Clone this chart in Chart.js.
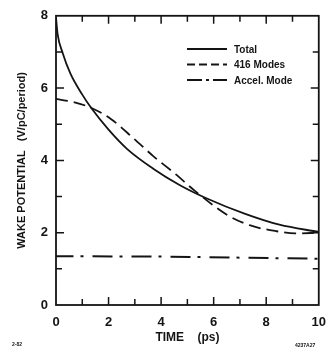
<!DOCTYPE html>
<html lang="en">
<head>
<meta charset="UTF-8">
<title>Wake potential</title>
<script src="https://cdn.jsdelivr.net/npm/chart.js"></script>
<style>
  html, body { margin: 0; padding: 0; background: #fff; }
  canvas { display: block; }
</style>
</head>
<body>
<canvas id="wake" width="336" height="355"></canvas>
<script>
// time (ps) / wake potential (V/pC/period)
const totalTime = [0, 0.06, 0.25, 0.55, 1.0, 1.35, 2.0, 2.7, 3.7, 4.7, 5.7, 7.2, 8.5, 10.0];
const totalWake = [7.95, 7.5, 6.98, 6.4, 5.82, 5.44, 4.85, 4.32, 3.77, 3.32, 2.96, 2.52, 2.22, 2.02];

const modesTime = [0, 0.74, 1.35, 2.1, 2.95, 3.7, 4.55, 5.3, 6.54, 7.4, 8.4, 9.1, 10.0];
const modesWake = [5.7, 5.6, 5.45, 5.14, 4.61, 4.12, 3.62, 3.15, 2.48, 2.2, 2.04, 1.98, 2.0];

const accelTime = [0, 4, 10];
const accelWake = [1.35, 1.34, 1.28];

const seriesNames = ['Total', '416 Modes', 'Accel. Mode'];
const xTickLabels = [0, 2, 4, 6, 8, 10];
const yTickLabels = [0, 2, 4, 6, 8];

const ink = '#141414';
const FONT = "'Liberation Sans', Arial, sans-serif";

const toPoints = (xs, ys) => xs.map((x, i) => ({ x: x, y: ys[i] }));

// box around the plot with inward ticks on all four sides
const frameTicks = {
  id: 'frameTicks',
  afterDraw(chart) {
    const { ctx, chartArea: a, scales: { x, y } } = chart;
    ctx.save();
    ctx.strokeStyle = ink;
    ctx.lineWidth = 1.8;
    ctx.strokeRect(a.left, a.top, a.right - a.left, a.bottom - a.top);
    ctx.lineWidth = 1.5;
    ctx.beginPath();
    for (let v = 1; v < 10; v++) {
      const px = x.getPixelForValue(v);
      const len = v % 2 === 0 ? 8 : 6;
      ctx.moveTo(px, a.bottom); ctx.lineTo(px, a.bottom - len);
      ctx.moveTo(px, a.top); ctx.lineTo(px, a.top + len);
    }
    for (let v = 1; v < 8; v++) {
      const py = y.getPixelForValue(v);
      const len = v % 2 === 0 ? 8 : 6;
      ctx.moveTo(a.left, py); ctx.lineTo(a.left + len, py);
      ctx.moveTo(a.right, py); ctx.lineTo(a.right - len, py);
    }
    ctx.stroke();
    ctx.restore();
  }
};

// legend in the upper right of the plot, plus the small figure codes
const innerLegend = {
  id: 'innerLegend',
  afterDraw(chart) {
    const { ctx } = chart;
    ctx.save();
    chart.data.datasets.forEach((ds, i) => {
      const yy = 49 + i * 15.5;
      ctx.strokeStyle = ds.borderColor;
      ctx.lineWidth = ds.borderWidth;
      ctx.setLineDash(i === 1 ? [8, 4] : i === 2 ? [15, 4, 3, 4] : []);
      ctx.beginPath();
      ctx.moveTo(187, yy);
      ctx.lineTo(227, yy);
      ctx.stroke();
      ctx.setLineDash([]);
      ctx.fillStyle = ink;
      ctx.font = 'bold 10px ' + FONT;
      ctx.textBaseline = 'middle';
      ctx.fillText(ds.label, 234, yy + 1);
    });
    ctx.font = 'bold 5px ' + FONT;
    ctx.fillText('2-82', 12, 345);
    ctx.fillText('4237A27', 295, 346);
    ctx.restore();
  }
};

new Chart(document.getElementById('wake'), {
  type: 'line',
  data: {
    datasets: [
      {
        label: seriesNames[0],
        data: toPoints(totalTime, totalWake),
        borderColor: ink,
        borderWidth: 1.8,
        pointRadius: 0,
        cubicInterpolationMode: 'monotone'
      },
      {
        label: seriesNames[1],
        data: toPoints(modesTime, modesWake),
        borderColor: ink,
        borderWidth: 1.8,
        borderDash: [12, 6],
        pointRadius: 0,
        cubicInterpolationMode: 'monotone'
      },
      {
        label: seriesNames[2],
        data: toPoints(accelTime, accelWake),
        borderColor: ink,
        borderWidth: 2,
        borderDash: [20, 7, 3, 9],
        borderDashOffset: 2.5,
        pointRadius: 0
      }
    ]
  },
  options: {
    responsive: false,
    animation: false,
    devicePixelRatio: 1,
    layout: { padding: { top: 5, right: 9, left: 0, bottom: 0 } },
    plugins: { legend: { display: false }, tooltip: { enabled: false } },
    scales: {
      x: {
        type: 'linear',
        min: 0,
        max: 10,
        afterFit(s) { s.height = 50; },
        grid: { display: false, drawTicks: false },
        border: { display: false },
        ticks: {
          stepSize: 1,
          padding: 10,
          maxRotation: 0,
          color: ink,
          font: { family: FONT, size: 13, weight: 'bold' },
          callback: v => xTickLabels.includes(v) ? String(v) : ''
        },
        title: {
          display: true,
          text: 'TIME    (ps)',
          color: ink,
          font: { family: FONT, size: 12, weight: 'bold' },
          padding: { top: 0, bottom: 10 }
        }
      },
      y: {
        type: 'linear',
        min: 0,
        max: 8,
        afterFit(s) { s.width = 56; },
        grid: { display: false, drawTicks: false },
        border: { display: false },
        ticks: {
          stepSize: 1,
          padding: 8,
          color: ink,
          font: { family: FONT, size: 13, weight: 'bold' },
          callback: v => yTickLabels.includes(v) ? String(v) : ''
        },
        title: {
          display: true,
          text: 'WAKE POTENTIAL   (V/pC/period)',
          color: ink,
          font: { family: FONT, size: 11, weight: 'bold' },
          padding: { top: 15, bottom: 0 }
        }
      }
    }
  },
  plugins: [frameTicks, innerLegend]
});
</script>
</body>
</html>
